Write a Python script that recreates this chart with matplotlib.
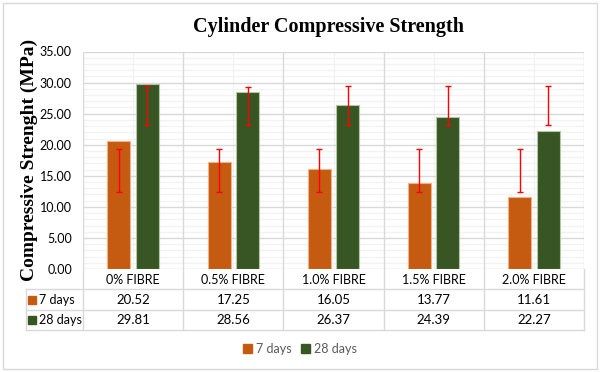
import matplotlib.pyplot as plt
from matplotlib.patches import Rectangle, Patch
import numpy as np

categories = ['0% FIBRE', '0.5% FIBRE', '1.0% FIBRE', '1.5% FIBRE', '2.0% FIBRE']
series_names = ['7 days', '28 days']
days7 = [20.52, 17.25, 16.05, 13.77, 11.61]
days28 = [29.81, 28.56, 26.37, 24.39, 22.27]
# error bar ends as drawn in the original (low, high)
err7_low = [12.4, 12.4, 12.4, 12.4, 12.4]
err7_high = [19.25, 19.25, 19.25, 19.25, 19.25]
err28_low = [23.2, 23.2, 23.2, 23.2, 23.2]
err28_high = [29.45, 29.35, 29.4, 29.4, 29.4]

ORANGE = '#C55A11'
GREEN = '#375623'
GRID_MAJOR = '#D9D9D9'
GRID_MINOR = '#F2F2F2'
TXT = '#000000'
SANS = ['Lato', 'DejaVu Sans']
SERIF = ['Liberation Serif', 'DejaVu Serif']

W, H = 600, 372
fig = plt.figure(figsize=(W / 100, H / 100), dpi=100)
fig.patch.set_facecolor('white')

# pixel layout
plot_l, plot_r, plot_t, plot_b = 83, 584, 51.5, 269
tab_l, tab_b = 26, 330

ax = fig.add_axes([plot_l / W, 1 - plot_b / H, (plot_r - plot_l) / W, (plot_b - plot_t) / H])
x = np.arange(len(categories))
n = len(categories)
ax.set_xlim(-0.5, n - 0.5)
ax.set_ylim(0, 35)

# gridlines
for v in np.arange(0, 36, 1):
    if v % 5:
        ax.axhline(v, color=GRID_MINOR, lw=0.9, zorder=0)
for v in np.arange(0, 36, 5):
    ax.axhline(v, color=GRID_MAJOR, lw=1.0, zorder=0.5)
for c in x:
    ax.axvline(c, color=GRID_MINOR, lw=0.9, zorder=0)
for c in np.arange(-0.5, n, 1):
    ax.axvline(c, color=GRID_MAJOR, lw=1.0, zorder=0.5)

bw = 0.23
off = 0.142
ax.bar(x - off, days7, bw, color=ORANGE, edgecolor='#F4B183', lw=0.8, zorder=2)
ax.bar(x + off, days28, bw, color=GREEN, edgecolor='#B4C7A5', lw=0.8, zorder=2)

lo7, hi7 = np.array(err7_low), np.array(err7_high)
lo28, hi28 = np.array(err28_low), np.array(err28_high)
ax.errorbar(x - off, (lo7 + hi7) / 2, yerr=(hi7 - lo7) / 2, fmt='none',
            ecolor='#FF0000', elinewidth=1.0, capsize=2.4, capthick=1.0, zorder=3)
ax.errorbar(x + off, (lo28 + hi28) / 2, yerr=(hi28 - lo28) / 2, fmt='none',
            ecolor='#FF0000', elinewidth=1.0, capsize=2.4, capthick=1.0, zorder=3)

ax.set_yticks(np.arange(0, 36, 5))
ax.set_yticklabels([f'{v:.2f}' for v in np.arange(0, 36, 5)], family=SANS, fontsize=9, color=TXT)
ax.tick_params(axis='y', length=0, pad=8)
ax.set_xticks([])
for s in ax.spines.values():
    s.set_visible(False)
ax.set_ylabel('Compressive Strenght (MPa)', family=SERIF, fontweight='bold', fontsize=14)
ax.yaxis.set_label_coords((38 - plot_l) / (plot_r - plot_l), 0.5)

fig.text((plot_l + plot_r) / 2 / W - 0.008, 1 - 27 / H, 'Cylinder Compressive Strength',
         family=SERIF, fontweight='bold', fontsize=14.5, ha='center', va='center')

# data table under the plot
tax = fig.add_axes([tab_l / W, 1 - tab_b / H, (plot_r - tab_l) / W, (tab_b - plot_b) / H])
unit = (plot_r - plot_l) / n
tx0 = -0.5 - (plot_l - tab_l) / unit
tax.set_xlim(tx0, n - 0.5)
row_h = [20, 21, 20]
tax.set_ylim(sum(row_h), 0)
tax.axis('off')
ys = np.cumsum([0] + row_h)

for yy in ys[1:]:
    tax.plot([tx0, n - 0.5], [yy, yy], color=GRID_MAJOR, lw=1.0, clip_on=False)
tax.plot([tx0, tx0], [ys[1], ys[3]], color=GRID_MAJOR, lw=1.0, clip_on=False)
for c in np.arange(-0.5, n, 1):
    tax.plot([c, c], [0, ys[3]], color=GRID_MAJOR, lw=1.0, clip_on=False)

mid = (ys[:-1] + ys[1:]) / 2
for c, name in zip(x, categories):
    tax.text(c, mid[0] + 0.5, name, family=SANS, fontsize=9, ha='center', va='center', color=TXT)
rows = [days7, days28]
colors = [ORANGE, GREEN]
for r, (vals, name, col) in enumerate(zip(rows, series_names, colors)):
    ym = mid[r + 1]
    tax.plot(tx0 + 6 / unit, ym, marker='s', ms=5.5, color=col, mec=col, clip_on=False)
    tax.text(tx0 + 13 / unit, ym, name, family=SANS, fontsize=9, ha='left', va='center', color=TXT)
    for c, v in zip(x, vals):
        tax.text(c, ym, f'{v:.2f}', family=SANS, fontsize=9.5, ha='center', va='center', color=TXT)

handles = [Patch(facecolor=c, edgecolor=c) for c in colors]
fig.legend(handles, series_names, loc='center', bbox_to_anchor=(0.5, 1 - 349 / H), ncol=2,
           frameon=False, prop={'family': SANS, 'size': 9}, labelcolor='#595959',
           handlelength=0.7, handleheight=0.7, handletextpad=0.3, columnspacing=0.8)

fig.patches.append(Rectangle((3 / W, 3 / H), 594 / W, 366 / H, transform=fig.transFigure,
                             fill=False, edgecolor=GRID_MAJOR, lw=1.0))

fig.savefig('out.png', dpi=100)
